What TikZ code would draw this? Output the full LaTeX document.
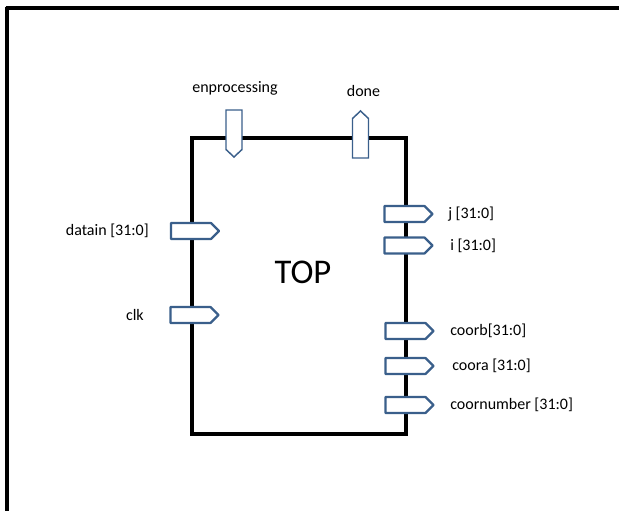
\documentclass[tikz,border=0pt]{standalone}
\usepackage{fontspec}
\setmainfont{Carlito}
\definecolor{portblue}{HTML}{3A5F8B}
\begin{document}
\begin{tikzpicture}[x=0.75pt,y=-0.75pt,
  pics/porte/.style={code={\draw[portblue, fill=white, line width=1.6pt, line join=round]
     (-24,-8) -- (16,-8) -- (24,0) -- (16,8) -- (-24,8) -- cycle;}},
  pics/ports/.style={code={\draw[portblue, fill=white, line width=1.1pt]
     (-8,-23.5) -- (8,-23.5) -- (8,16) -- (0,23.5) -- (-8,16) -- cycle;}},
  pics/portn/.style={code={\draw[portblue, fill=white, line width=1.1pt]
     (-8,23.5) -- (8,23.5) -- (8,-16) -- (0,-23.5) -- (-8,-16) -- cycle;}},
  lbl/.style={font=\fontsize{12pt}{14pt}\selectfont, inner sep=0pt}]
\useasboundingbox (0,0) rectangle (619,511);
% outer frame
\draw[line width=2.3pt] (7,6.5) -- (7,511);
\draw[line width=2.3pt] (5.5,8) -- (619,8);
% main box
\node[draw, line width=2.3pt, minimum width=214*0.75pt, minimum height=296*0.75pt, inner sep=0pt] (box) at (299,286) {};
\node[font=\fontsize{26pt}{30pt}\selectfont] (toplbl) at (303,272) {TOP};
% top ports
\pic (enp) at (234,133.5) {ports};
\pic (done) at (360.5,134.5) {portn};
\node[lbl] (enpl) at (235,88) {enprocessing};
\node[lbl] (donel) at (363.5,91) {done};
% left ports
\pic (datain) at (195,231) {porte};
\pic (clk) at (194.5,315) {porte};
\node[lbl, anchor=east] (datainl) at (149,231) {datain [31:0]};
\node[lbl, anchor=east] (clkl) at (144,315) {clk};
% right ports
\pic (j) at (408.5,214) {porte};
\pic (i) at (408.5,245.5) {porte};
\pic (coorb) at (409.5,331) {porte};
\pic (coora) at (409.5,366) {porte};
\pic (coorn) at (409.5,405) {porte};
\node[lbl, anchor=west] (jl) at (448,214) {j [31:0]};
\node[lbl, anchor=west] (il) at (450,245.5) {i [31:0]};
\node[lbl, anchor=west] (coorbl) at (450,331) {coorb[31:0]};
\node[lbl, anchor=west] (cooral) at (452,366) {coora [31:0]};
\node[lbl, anchor=west] (coornl) at (450,405) {coornumber [31:0]};
\end{tikzpicture}
\end{document}
